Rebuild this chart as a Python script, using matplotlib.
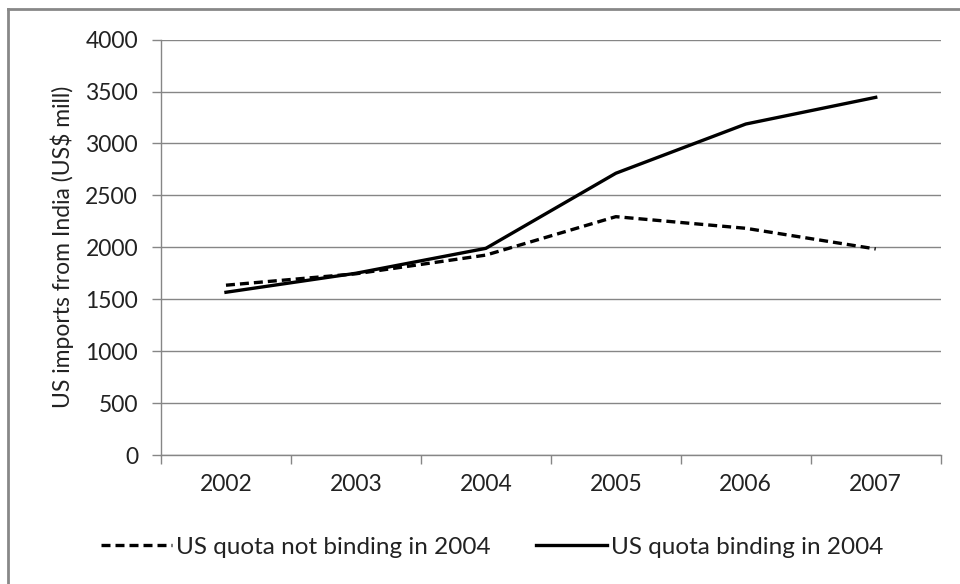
import matplotlib
matplotlib.use('Agg')
from matplotlib import pyplot as plt
from matplotlib.lines import Line2D

plt.rcParams['font.family'] = ['Lato', 'DejaVu Sans']

years = ['2002', '2003', '2004', '2005', '2006', '2007']
not_binding = [1635, 1745, 1925, 2295, 2183, 1984]
binding = [1567, 1750, 1990, 2713, 3187, 3444]
y_ticks = [0, 500, 1000, 1500, 2000, 2500, 3000, 3500, 4000]

grid_col = '#868686'
fs = 16.5

fig = plt.figure(figsize=(9.6, 5.84), dpi=100)
ax = fig.add_axes([161/960, 1-455/584, (940.7-161)/960, (455-39.6)/584])

x = [i + 0.5 for i in range(len(years))]
ax.plot(x, not_binding, color='black', lw=2.4, linestyle=(0, (2.7, 1.5)),
        label='US quota not binding in 2004', solid_capstyle='butt')
ax.plot(x, binding, color='black', lw=2.4, label='US quota binding in 2004')

ax.set_xlim(0, len(years))
ax.set_ylim(0, 4000)
ax.set_yticks(y_ticks)
ax.set_yticklabels([str(v) for v in y_ticks], fontsize=fs, color='#222222')
ax.yaxis.grid(True, color=grid_col, lw=1)
ax.set_axisbelow(True)

ax.set_xticks(range(len(years) + 1))
ax.set_xticklabels([])
ax.set_xticks(x, minor=True)
ax.set_xticklabels(years, minor=True, fontsize=fs, color='#222222')
ax.tick_params(axis='x', which='major', length=6.5, color=grid_col, width=1)
ax.tick_params(axis='x', which='minor', length=0, pad=14)
ax.tick_params(axis='y', length=6.5, color=grid_col, width=1, pad=10)

for s in ['top', 'right']:
    ax.spines[s].set_visible(False)
for s in ['left', 'bottom']:
    ax.spines[s].set_color(grid_col)
    ax.spines[s].set_linewidth(1)

ax.set_ylabel('US imports from India (US$ mill)', fontsize=fs, color='#222222', labelpad=8)

leg = fig.legend(loc='center', bbox_to_anchor=(0.513, 1-547/584), ncol=2, frameon=False,
                 fontsize=17.5, handlelength=2.9, handletextpad=0.2, columnspacing=1.85)
for t in leg.get_texts():
    t.set_color('#222222')

# рамка вокруг диаграммы
fig.add_artist(Line2D([8/960, 1], [1-9/584, 1-9/584], transform=fig.transFigure, color='#888888', lw=2))
fig.add_artist(Line2D([8/960, 8/960], [0, 1-9/584], transform=fig.transFigure, color='#888888', lw=2))

fig.savefig('out.png', dpi=100, facecolor='white')
